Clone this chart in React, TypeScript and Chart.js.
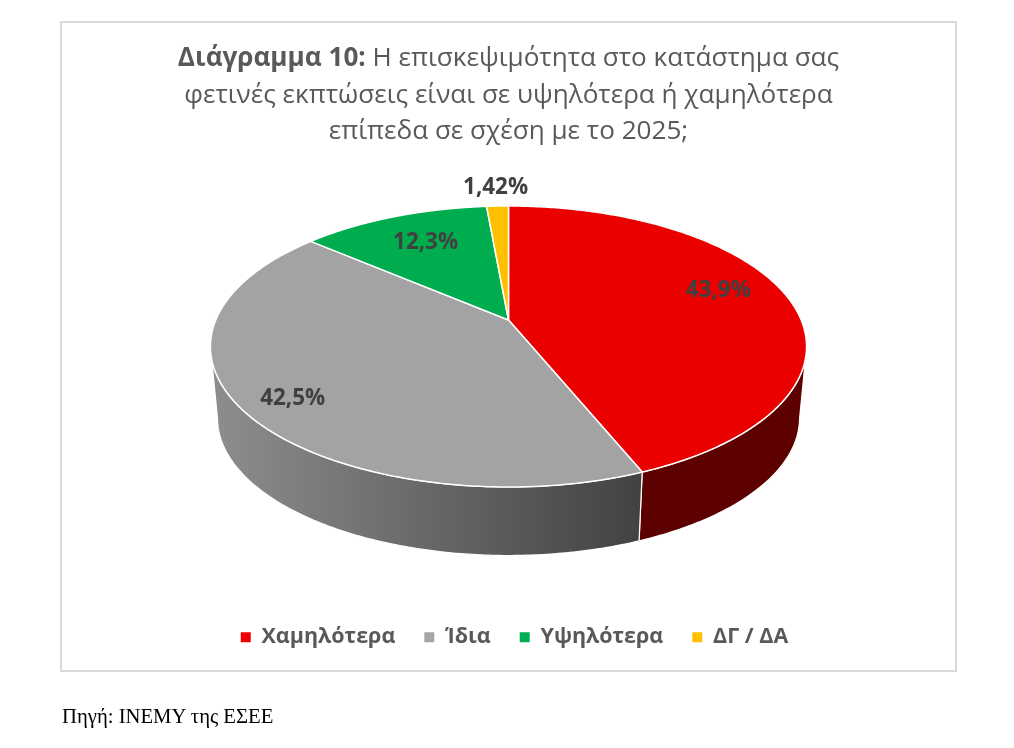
import React, { useEffect, useRef } from "react";
import { Chart, registerables } from "chart.js";

Chart.register(...registerables);

const titleBold = "Διάγραμμα 10:";
const titleLines = [
  " Η επισκεψιμότητα στο κατάστημα σας",
  "φετινές εκπτώσεις είναι σε υψηλότερα ή χαμηλότερα",
  "επίπεδα σε σχέση με το 2025;",
];
const sourceText = "Πηγή: ΙΝΕΜΥ της ΕΣΕΕ";

const categories = ["Χαμηλότερα", "Ίδια", "Υψηλότερα", "ΔΓ / ΔΑ"];
const values = [43.9, 42.5, 12.3, 1.42];
const valueLabels = ["43,9%", "42,5%", "12,3%", "1,42%"];
const sliceColors = ["#EB0000", "#A3A3A3", "#00AD4E", "#FFC000"];
const legendColors = ["#EE0000", "#A5A5A5", "#00B050", "#FFC000"];

// Label placement inside each slice: radial fraction and angular shift (deg)
const labelRadial = [0.787, 0.841, 0.728, 1.217];
const labelShift = [-6.7, -1.9, 1.3, 0];

// Projection of the flat pie onto the tilted disc
const CX = 508.5;
const APEX_Y = 320;
const AX = 292.7;
const BY = 135.5;
const W = -0.1886;
const TOP_CY = 346.5;
const TOP_RX = 298;
const TOP_RY = 140.5;
const BOT_CY = 418;
const BOT_RX = 291;
const BOT_RY = 137.5;

function project(a: number, f = 1) {
  const u = Math.cos(a) * f;
  const v = Math.sin(a) * f;
  const d = 1 + W * v;
  return { x: CX + (AX * u) / d, y: APEX_Y + (BY * v) / d };
}
function lower(p: { x: number; y: number }) {
  return {
    x: CX + ((p.x - CX) * BOT_RX) / TOP_RX,
    y: BOT_CY + ((p.y - TOP_CY) * BOT_RY) / TOP_RY,
  };
}

const pie3d = {
  id: "pie3d",
  beforeDatasetsDraw(chart: any) {
    const { ctx } = chart;
    const arcs = chart.getDatasetMeta(0).data;
    const STEPS = 240;
    ctx.save();
    ctx.lineJoin = "round";

    // walls
    arcs.forEach((arc: any, i: number) => {
      const pts: { x: number; y: number }[] = [];
      for (let s = 0; s <= STEPS; s++) {
        const a = arc.startAngle + ((arc.endAngle - arc.startAngle) * s) / STEPS;
        const p = project(a);
        if (p.y >= TOP_CY) pts.push(p);
      }
      if (pts.length < 2) return;
      ctx.beginPath();
      pts.forEach((p, k) => (k ? ctx.lineTo(p.x, p.y) : ctx.moveTo(p.x, p.y)));
      [...pts].reverse().forEach((p) => {
        const q = lower(p);
        ctx.lineTo(q.x, q.y);
      });
      ctx.closePath();
      if (i === 0) {
        ctx.fillStyle = "#5C0000";
      } else {
        const g = ctx.createLinearGradient(210, 0, 641, 0);
        g.addColorStop(0, "#8E8E8E");
        g.addColorStop(1, "#424242");
        ctx.fillStyle = g;
      }
      ctx.fill();
      ctx.strokeStyle = "#FFFFFF";
      ctx.lineWidth = 1.2;
      ctx.stroke();
    });

    // top faces
    arcs.forEach((arc: any, i: number) => {
      ctx.beginPath();
      ctx.moveTo(CX, APEX_Y);
      for (let s = 0; s <= STEPS; s++) {
        const a = arc.startAngle + ((arc.endAngle - arc.startAngle) * s) / STEPS;
        const p = project(a);
        ctx.lineTo(p.x, p.y);
      }
      ctx.closePath();
      ctx.fillStyle = sliceColors[i];
      ctx.fill();
      ctx.strokeStyle = "#FFFFFF";
      ctx.lineWidth = 1.5;
      ctx.stroke();
    });

    // value labels
    ctx.font = "bold 22.4px 'Open Sans'";
    ctx.fillStyle = "#404040";
    ctx.textAlign = "center";
    ctx.textBaseline = "middle";
    arcs.forEach((arc: any, i: number) => {
      const mid = (arc.startAngle + arc.endAngle) / 2 + (labelShift[i] * Math.PI) / 180;
      const p = project(mid, labelRadial[i]);
      ctx.fillText(valueLabels[i], p.x, p.y + 2);
    });
    ctx.restore();
    return false;
  },
};

export default function App() {
  const ref = useRef<HTMLCanvasElement | null>(null);
  useEffect(() => {
    const chart = new Chart(ref.current as HTMLCanvasElement, {
      type: "pie",
      data: {
        labels: categories,
        datasets: [
          { data: values, backgroundColor: legendColors, borderWidth: 0 },
        ],
      },
      options: {
        animation: false,
        responsive: false,
        events: [],
        layout: { padding: { left: 15, bottom: 90, top: 200 } },
        plugins: {
          title: { display: false },
          tooltip: { enabled: false },
          legend: {
            display: true,
            position: "bottom",
            labels: {
              boxWidth: 10,
              boxHeight: 10,
              padding: 29,
              color: "#595959",
              font: { family: "'Open Sans'", size: 21.5, weight: "bold" },
            },
          },
        },
      },
      plugins: [pie3d],
    } as any);
    return () => chart.destroy();
  }, []);

  return (
    <div style={{ position: "absolute", left: 0, top: 0, width: 1014, height: 748, background: "#fff" }}>
      <div
        style={{
          position: "absolute",
          left: 60,
          top: 21,
          width: 893,
          height: 647,
          border: "2px solid #D9D9D9",
        }}
      />
      <canvas ref={ref} width={1014} height={748} style={{ position: "absolute", left: 0, top: 0, display: "block" }} />
      <div
        style={{
          position: "absolute",
          left: 60,
          top: 38,
          width: 897,
          textAlign: "center",
          fontFamily: "'Open Sans'",
          fontSize: 26.1,
          lineHeight: "36.5px",
          color: "#595959",
          whiteSpace: "pre",
        }}
      >
        <b>{titleBold}</b>
        {titleLines[0]}
        <br />
        {titleLines[1]}
        <br />
        {titleLines[2]}
      </div>
      <div
        style={{
          position: "absolute",
          left: 62,
          top: 705,
          fontFamily: "'Liberation Serif'",
          fontSize: 20.7,
          color: "#000",
          whiteSpace: "pre",
        }}
      >
        {sourceText}
      </div>
    </div>
  );
}
